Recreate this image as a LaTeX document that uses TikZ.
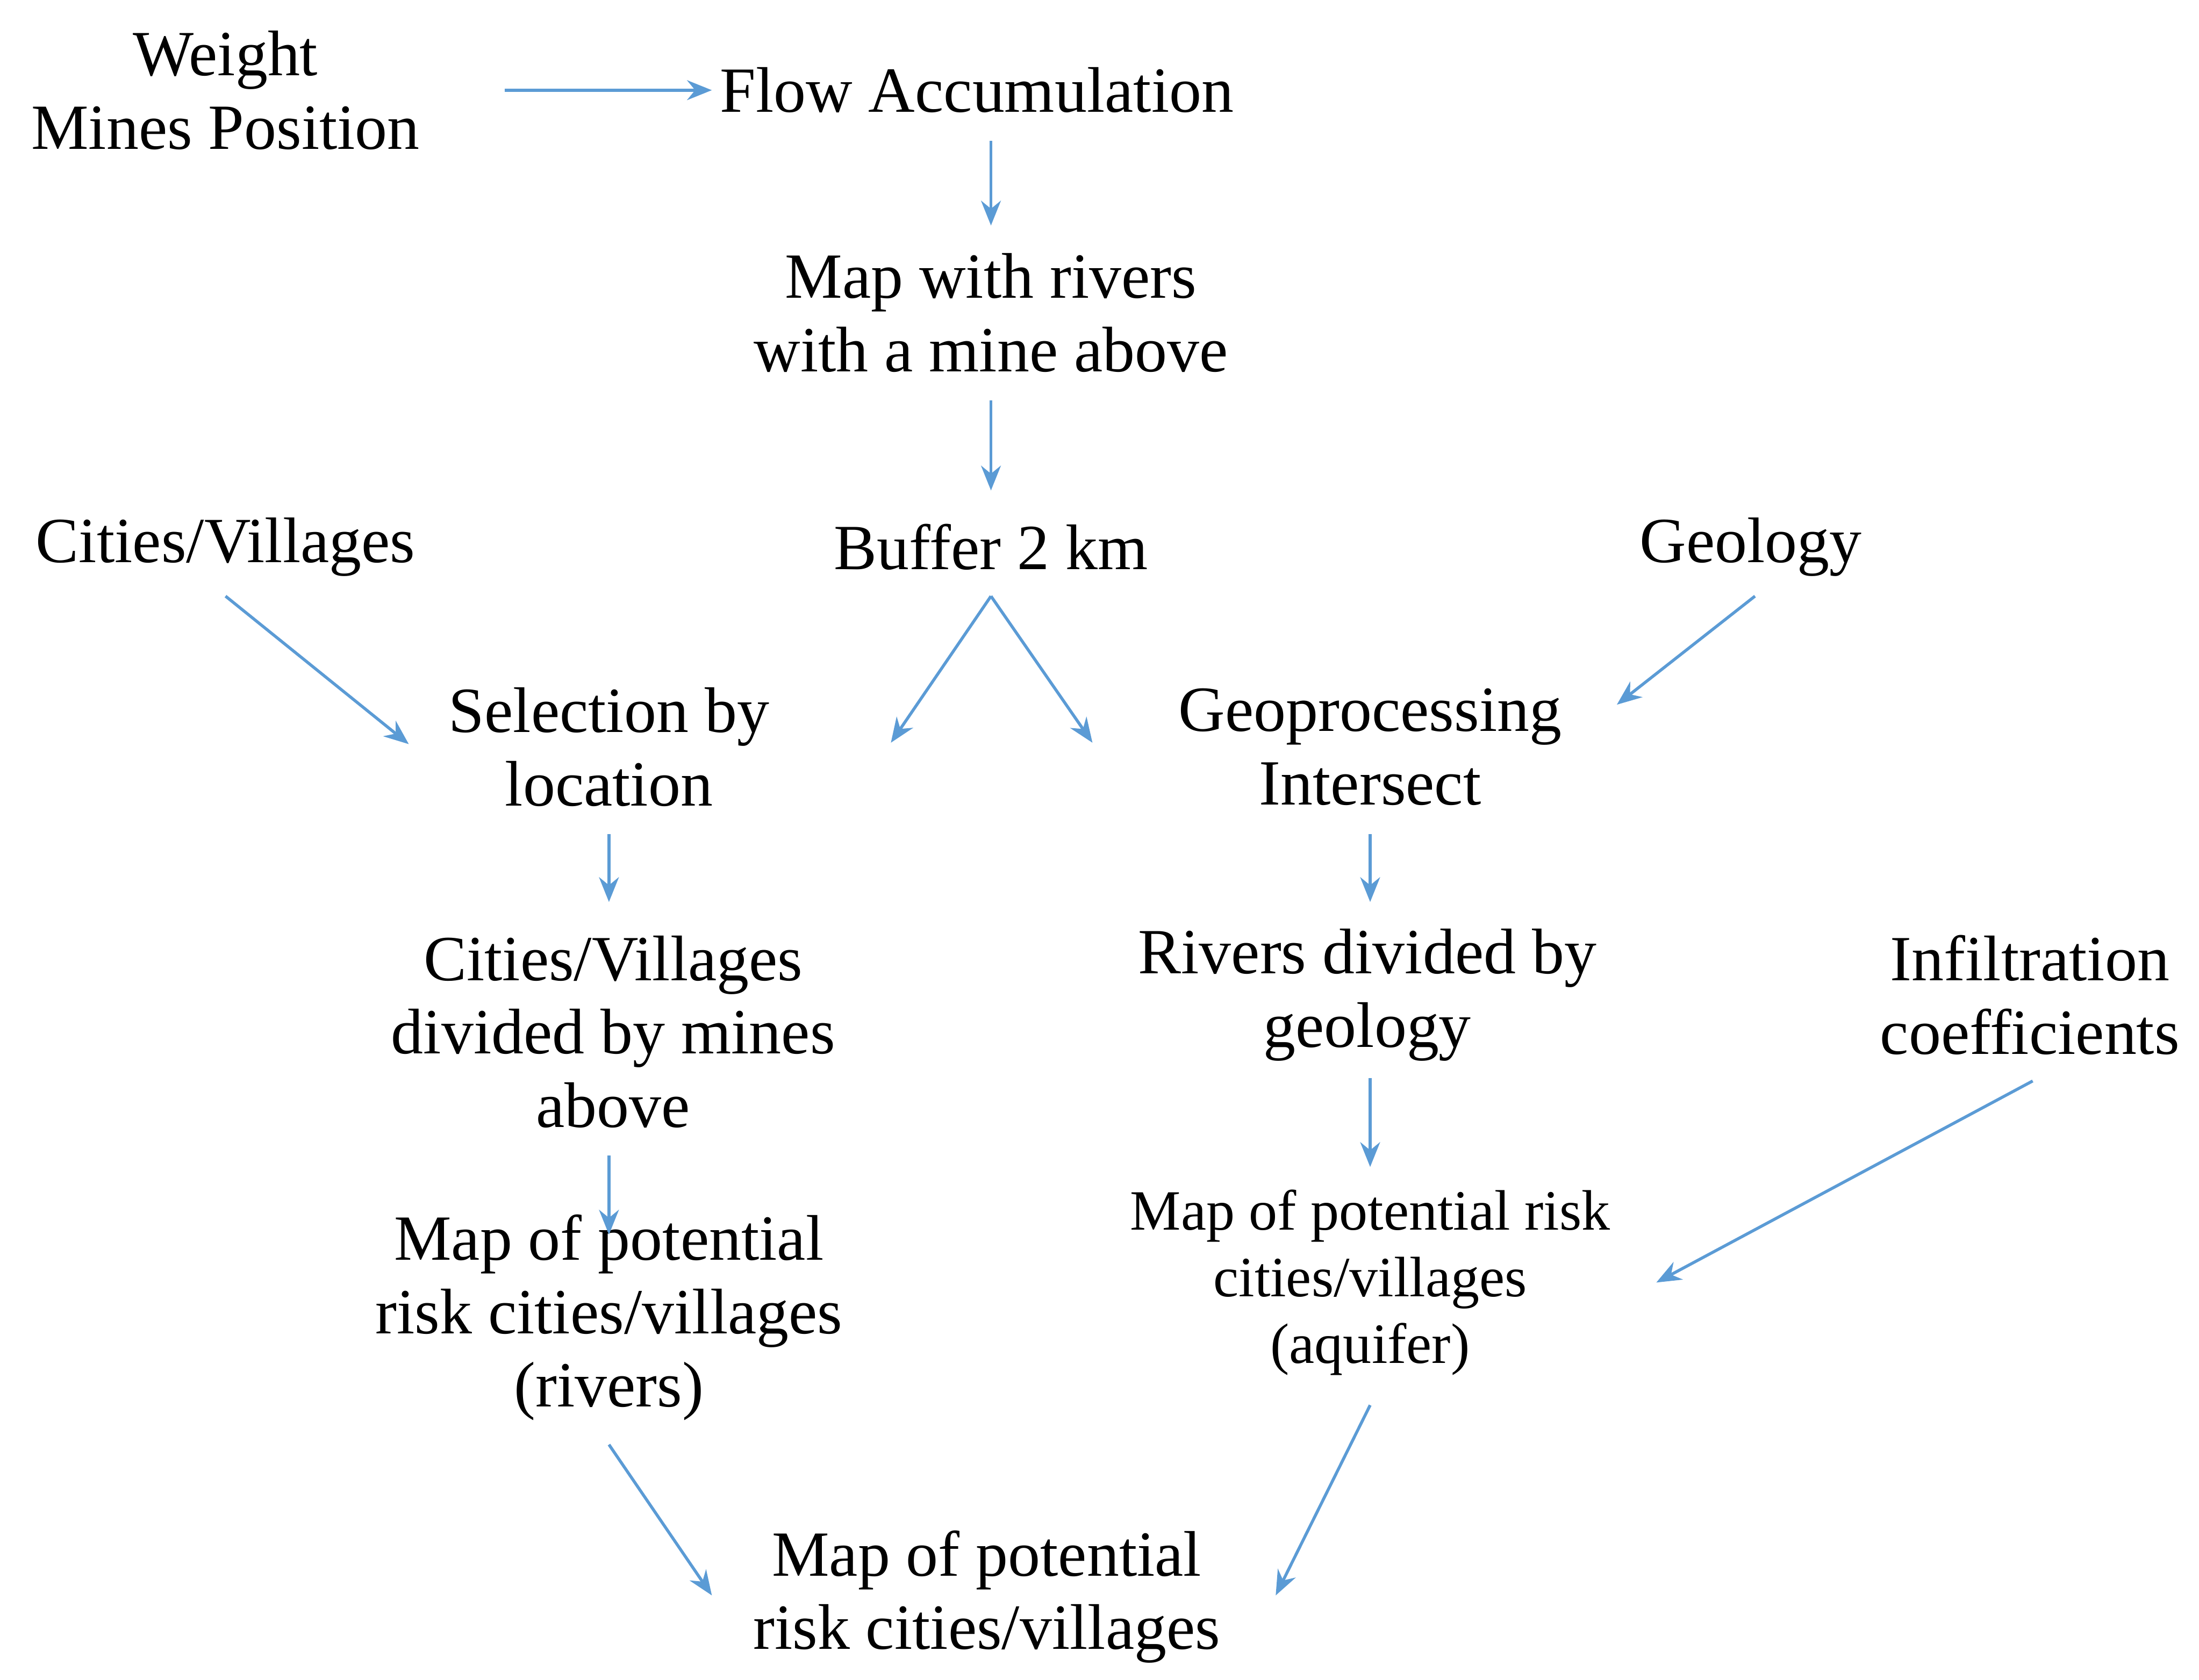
\documentclass[tikz,border=0pt]{standalone}
\usepackage{fontspec}
\setmainfont{Liberation Serif}
\usetikzlibrary{arrows.meta}
\definecolor{ab}{RGB}{91,155,213}
\begin{document}
\begin{tikzpicture}[x=0.01cm,y=-0.01cm,
  t/.style={align=center,inner sep=0pt,font=\fontsize{13pt}{14.8pt}\selectfont},
  s/.style={align=center,inner sep=0pt,font=\fontsize{11.5pt}{13.4pt}\selectfont},
  ar/.style={draw=ab,line width=0.6pt,-{Stealth[length=5pt,width=4pt]}}]
\useasboundingbox (0,0) rectangle (1560,1192);
\node[t] (wm) at (160,64) {Weight\\Mines Position};
\node[t] (fa) at (693,64) {Flow Accumulation};
\node[t] (mr) at (703,222) {Map with rivers\\with a mine above};
\node[t] (bf) at (703,388) {Buffer 2 km};
\node[t] (cv) at (160,388) {Cities/Villages};
\node[t] (ge) at (1242,388) {Geology};
\node[t] (sl) at (432,530) {Selection by\\location};
\node[t] (gi) at (972,530) {Geoprocessing\\Intersect};
\node[t] (cd) at (435,732) {Cities/Villages\\divided by mines\\above};
\node[t] (rd) at (970,706) {Rivers divided by\\geology};
\node[t] (ic) at (1440,706) {Infiltration\\coefficients};
\node[t] (mp) at (432,935) {Map of potential\\risk cities/villages\\(rivers)};
\node[s] (ma) at (972,910) {Map of potential risk\\cities/villages\\(aquifer)};
\node[t] (fm) at (700,1133) {Map of potential\\risk cities/villages};
\coordinate (a1) at (358,64); \coordinate (a2) at (505,64);
\draw[ar] (a1) -- (a2);
\coordinate (b1) at (703,100); \coordinate (b2) at (703,160);
\draw[ar] (b1) -- (b2);
\coordinate (c1) at (703,284); \coordinate (c2) at (703,348);
\draw[ar] (c1) -- (c2);
\coordinate (d1) at (160,423); \coordinate (d2) at (290,528);
\draw[ar] (d1) -- (d2);
\coordinate (e1) at (703,423); \coordinate (e2) at (632,527); \coordinate (e3) at (775,527);
\draw[ar] (e1) -- (e2); \draw[ar] (e1) -- (e3);
\coordinate (f1) at (1245,423); \coordinate (f2) at (1147,500);
\draw[ar] (f1) -- (f2);
\coordinate (g1) at (432,592); \coordinate (g2) at (432,640);
\draw[ar] (g1) -- (g2);
\coordinate (h1) at (972,592); \coordinate (h2) at (972,640);
\draw[ar] (h1) -- (h2);
\coordinate (i1) at (432,820); \coordinate (i2) at (432,876);
\draw[ar] (i1) -- (i2);
\coordinate (j1) at (972,765); \coordinate (j2) at (972,828);
\draw[ar] (j1) -- (j2);
\coordinate (k1) at (1442,767); \coordinate (k2) at (1175,910);
\draw[ar] (k1) -- (k2);
\coordinate (l1) at (432,1025); \coordinate (l2) at (505,1132);
\draw[ar] (l1) -- (l2);
\coordinate (m1) at (972,997); \coordinate (m2) at (905,1132);
\draw[ar] (m1) -- (m2);
\end{tikzpicture}
\end{document}
